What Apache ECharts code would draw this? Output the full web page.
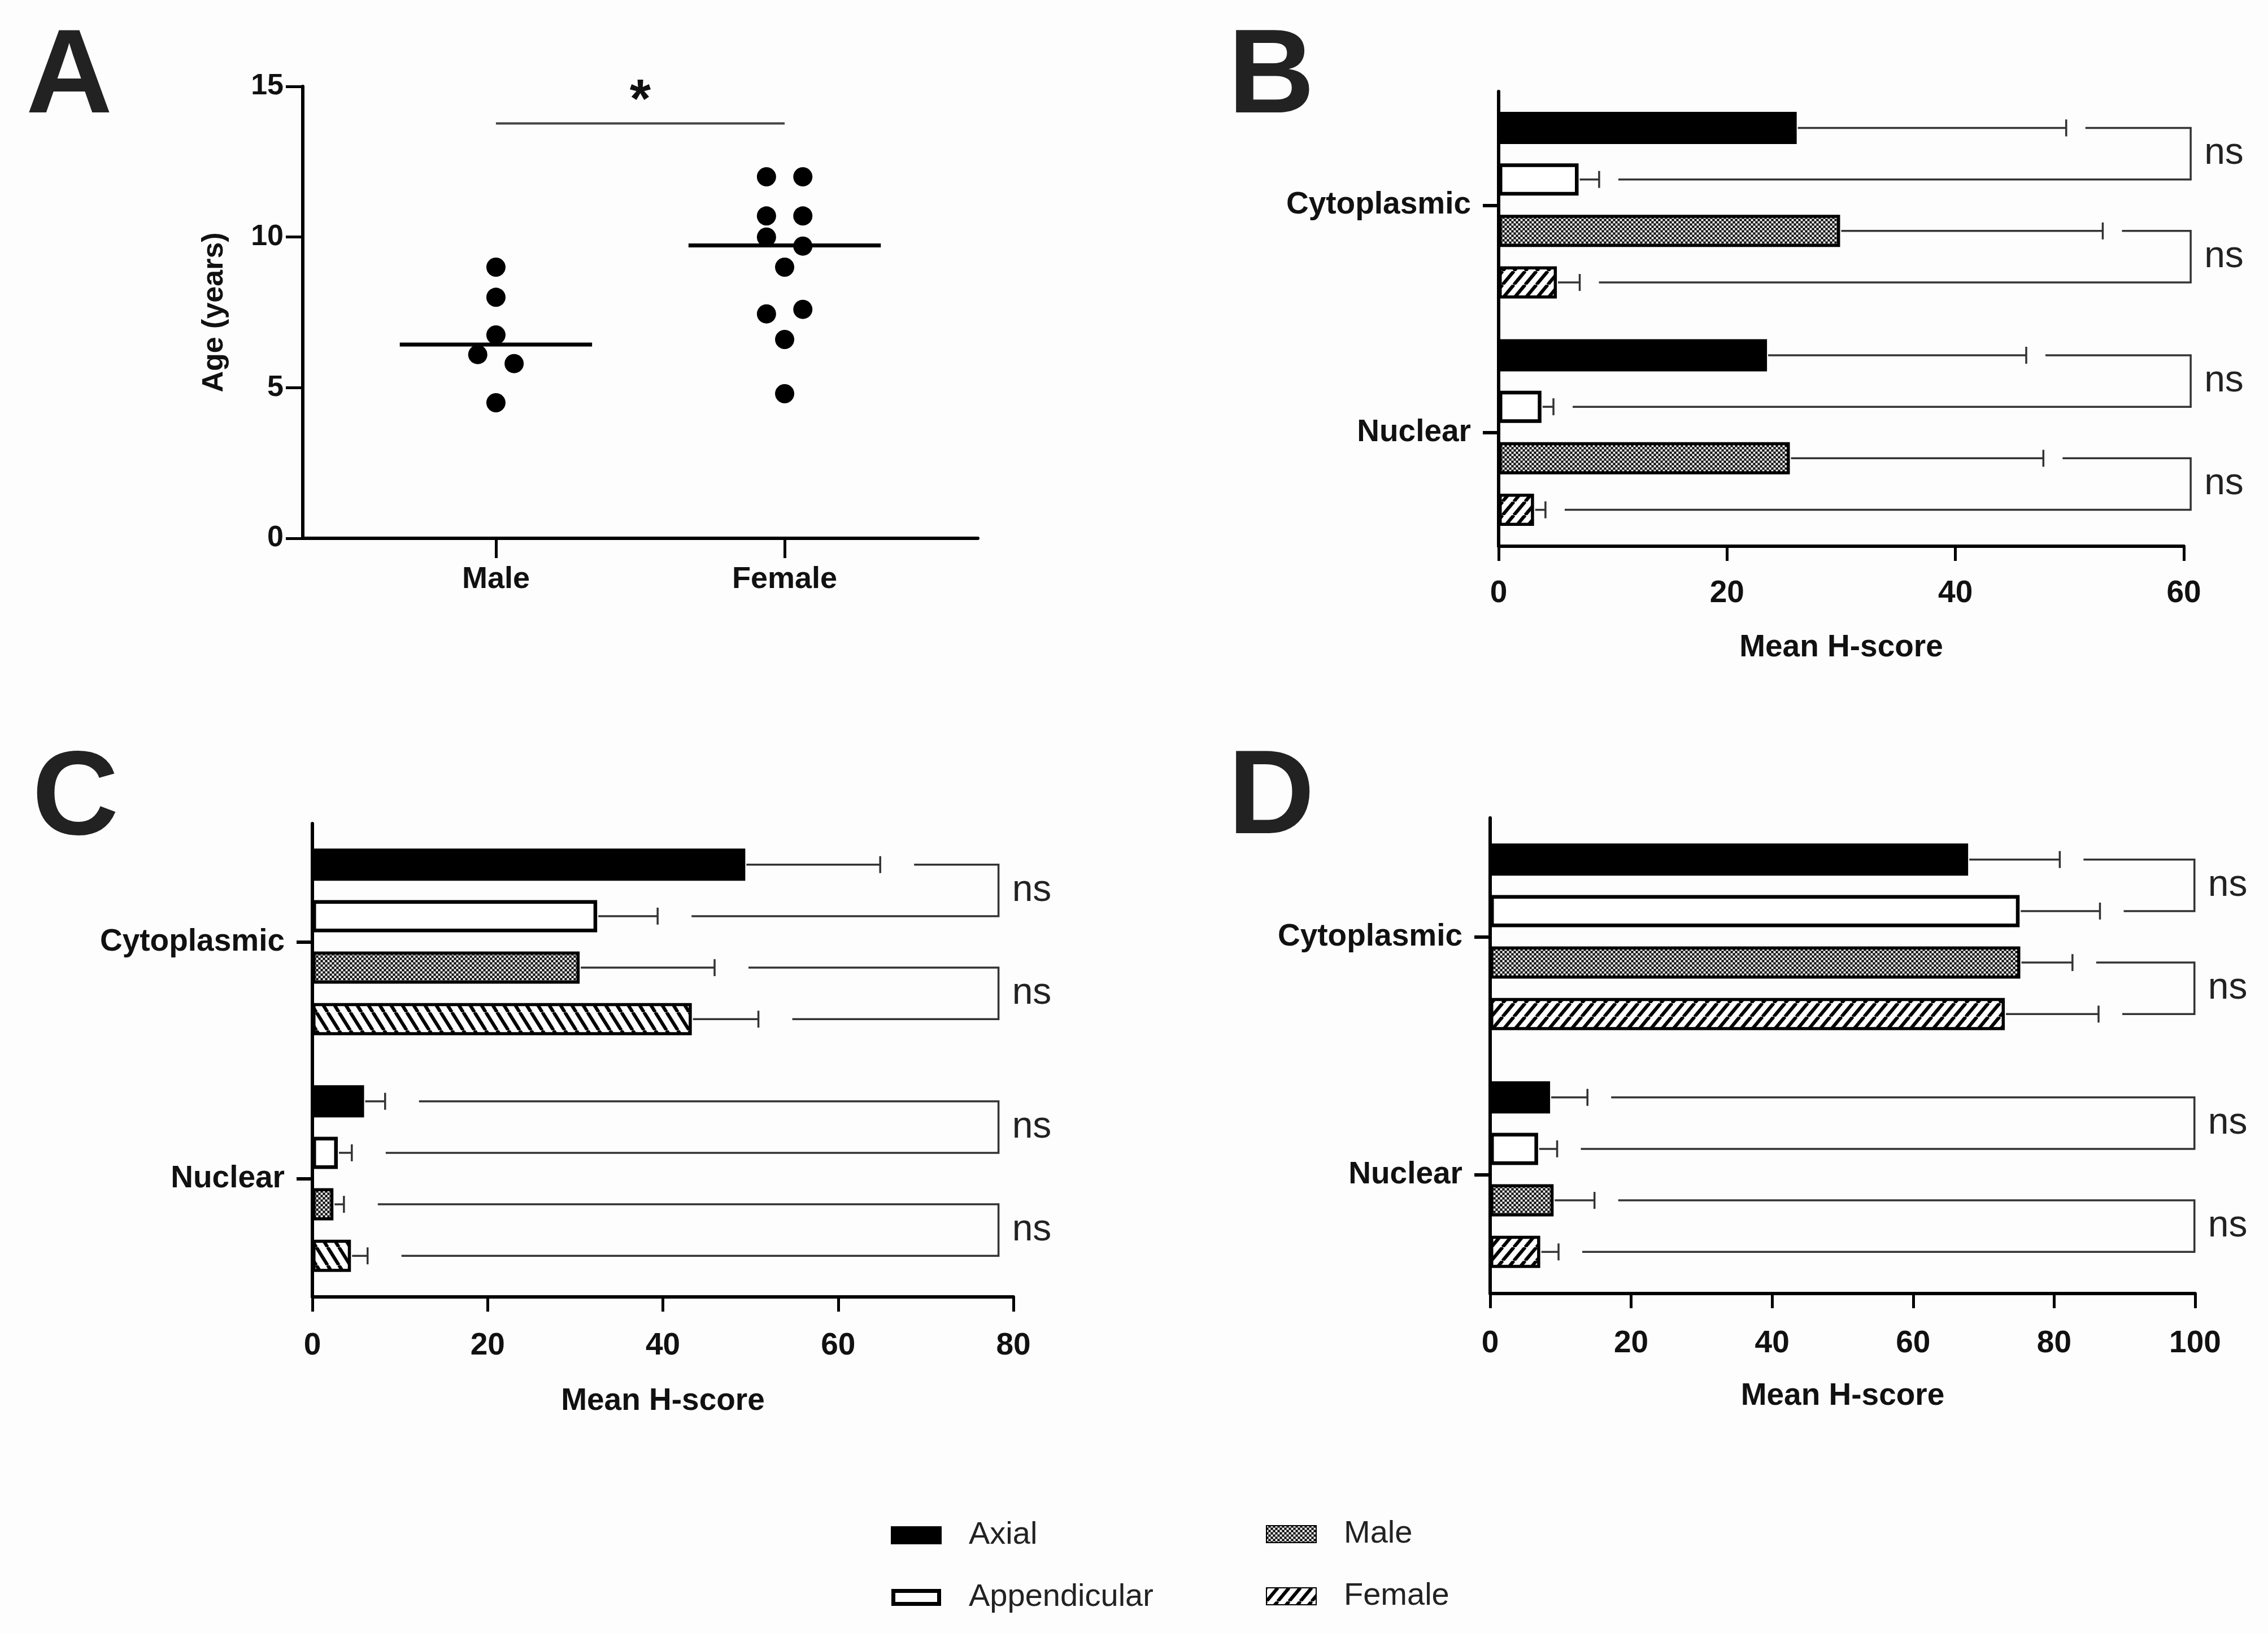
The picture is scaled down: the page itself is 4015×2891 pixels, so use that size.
<!DOCTYPE html>
<html><head><meta charset="utf-8">
<script src="https://cdn.jsdelivr.net/npm/echarts@6/dist/echarts.min.js"></script>
<style>html,body{margin:0;padding:0;background:#fff}#c{width:4015px;height:2891px}</style>
</head><body><div id="c"></div>
<script>
// ---------- Panel A data: age (years) by sex ----------
const sexes = ['Male', 'Female'];
const maleAge = [9.0, 8.0, 6.75, 6.1, 5.8, 4.5];
const maleCol = [0, 0, 0, -1, 1, 0];            // beeswarm column (-1 left, 0 centre, 1 right)
const femaleAge = [12.0, 12.0, 10.7, 10.7, 10.0, 9.7, 9.0, 7.45, 7.6, 6.6, 4.8];
const femaleCol = [-1, 1, -1, 1, -1, 1, 0, -1, 1, 0, 0];
const medianAge = [6.43, 9.72];
const sigLevel = 13.77;
const sigLabel = '*';

// ---------- Panels B-D data: mean H-score ----------
const groups = ['Cytoplasmic', 'Nuclear'];
const barNames = ['Axial', 'Appendicular', 'Male', 'Female'];
// rows follow barNames, columns follow groups
const bMean = [[26.1, 23.5], [7.0, 3.75], [29.9, 25.5], [5.1, 3.1]];
const bSD   = [[23.6, 22.7], [1.8, 1.05], [23.0, 22.2], [2.0, 1.0]];
const cMean = [[49.4, 5.9], [32.5, 2.9], [30.5, 2.4], [43.3, 4.4]];
const cSD   = [[15.4, 2.4], [6.9, 1.6], [15.4, 1.2], [7.6, 1.9]];
const dMean = [[67.8, 8.5], [75.1, 6.8], [75.2, 9.0], [73.0, 7.1]];
const dSD   = [[13.0, 5.3], [11.4, 2.7], [7.4, 5.8], [13.3, 2.6]];
// comparisons: [barA, barB] within each group, with label per group
const pairs = [[0, 1], [2, 3]];
const bSig = [['ns', 'ns'], ['ns', 'ns']];
const cSig = [['ns', 'ns'], ['ns', 'ns']];
const dSig = [['ns', 'ns'], ['ns', 'ns']];
const bBracketX = 60.6, cBracketX = 78.3, dBracketX = 99.9;
const bMax = 60, cMax = 80, dMax = 100;

// ---------- styles ----------
const FONT = 'Liberation Sans, Arial, Helvetica, sans-serif';
const INK = '#111';
const LINE = '#333';
const BAR_W = 57, BAR_GAP = 0.6, PITCH = BAR_W * (1 + BAR_GAP);
const CAP = 30;

function hatch(dir, w, h, lw) {
  const c = document.createElement('canvas'); c.width = w; c.height = h;
  const g = c.getContext('2d');
  g.fillStyle = '#fff'; g.fillRect(0, 0, w, h);
  g.strokeStyle = '#000'; g.lineWidth = lw;
  for (let k = -1; k <= 1; k++) {
    g.beginPath();
    if (dir === '/') { g.moveTo(k * w, h); g.lineTo(k * w + w, 0); }
    else { g.moveTo(k * w, 0); g.lineTo(k * w + w, h); }
    g.stroke();
  }
  return { image: c, repeat: 'repeat' };
}
function checker() {
  const c = document.createElement('canvas'); c.width = 8; c.height = 8;
  const g = c.getContext('2d');
  g.fillStyle = '#6a6a6a'; g.fillRect(0, 0, 8, 8);
  g.fillStyle = '#f2f2f2'; g.fillRect(0, 0, 3, 3); g.fillRect(4, 4, 3, 3);
  g.fillStyle = '#0a0a0a'; g.fillRect(4, 0, 3, 3); g.fillRect(0, 4, 3, 3);
  return { image: c, repeat: 'repeat' };
}
const fillFwd = hatch('/', 20, 24, 6);
const fillBack = hatch('\\', 20, 32, 6);
const fillMale = checker();

function barStyle(i, femaleFill) {
  const base = { borderColor: '#000', borderWidth: 5.5 };
  if (i === 0) return Object.assign(base, { color: '#000' });
  if (i === 1) return Object.assign(base, { color: '#fff', borderWidth: 6.5 });
  if (i === 2) return Object.assign(base, { color: fillMale });
  return Object.assign(base, { color: femaleFill });
}

const grids = [
  { left: 536, top: 153, width: 1195, height: 800 },
  { left: 2653, top: 162, width: 1213, height: 805 },
  { left: 553, top: 1458, width: 1241, height: 838 },
  { left: 2638, top: 1448, width: 1248, height: 842 }
];

function hAxis(idx, max, nameGap, margin) {
  return {
    type: 'value', gridIndex: idx, min: 0, max: max, interval: 20,
    name: 'Mean H-score', nameLocation: 'middle', nameGap: nameGap,
    nameTextStyle: { fontSize: 55, fontWeight: 'bold', color: INK, fontFamily: FONT },
    axisLine: { show: true, onZero: false, lineStyle: { color: '#000', width: 6 } },
    axisTick: { show: true, length: 26, lineStyle: { color: '#000', width: 5 } },
    axisLabel: { fontSize: 55, fontWeight: 'bold', color: INK, fontFamily: FONT, margin: margin },
    splitLine: { show: false }
  };
}
function catAxis(idx) {
  return {
    type: 'category', gridIndex: idx, data: groups, inverse: true,
    axisLine: { show: true, onZero: false, lineStyle: { color: '#000', width: 6 } },
    axisTick: { show: true, alignWithLabel: true, length: 28, lineStyle: { color: '#000', width: 6 } },
    axisLabel: { fontSize: 55, fontWeight: 'bold', color: INK, fontFamily: FONT, margin: 49 },
    splitLine: { show: false }
  };
}

function barSeries(idx, means, femaleFill) {
  return barNames.map((n, i) => ({
    type: 'bar', name: n, xAxisIndex: idx, yAxisIndex: idx,
    barWidth: BAR_W, barGap: (BAR_GAP * 100) + '%',
    itemStyle: barStyle(i, femaleFill),
    data: means[i], silent: true, z: 2
  }));
}
function errSeries(idx, means, sds) {
  const data = [];
  means.forEach((row, si) => row.forEach((v, gi) => data.push([v + sds[si][gi], gi, v, si])));
  return {
    type: 'custom', xAxisIndex: idx, yAxisIndex: idx, silent: true, z: 3,
    encode: { x: 0, y: 1 }, data,
    renderItem(params, api) {
      const gi = api.value(1), si = api.value(3);
      const c = api.coord([api.value(2), gi]);
      const e = api.coord([api.value(0), gi]);
      const y = c[1] + (si - 1.5) * PITCH;
      const st = { stroke: LINE, lineWidth: 3.5 };
      return { type: 'group', children: [
        { type: 'line', shape: { x1: c[0] + 2, y1: y, x2: e[0], y2: y }, style: st },
        { type: 'line', shape: { x1: e[0], y1: y - CAP / 2, x2: e[0], y2: y + CAP / 2 }, style: st }
      ]};
    }
  };
}
function bracketSeries(idx, means, sds, bx, sig, gap) {
  const data = [];
  groups.forEach((g, gi) => pairs.forEach(([a, b], pi) =>
    data.push([bx, gi, means[a][gi] + sds[a][gi], means[b][gi] + sds[b][gi], a, b, pi])));
  return {
    type: 'custom', xAxisIndex: idx, yAxisIndex: idx, silent: true, z: 3,
    encode: { x: 0, y: 1 }, data,
    renderItem(params, api) {
      const gi = api.value(1), a = api.value(4), b = api.value(5), pi = api.value(6);
      const p = api.coord([api.value(0), gi]);
      const yA = p[1] + (a - 1.5) * PITCH, yB = p[1] + (b - 1.5) * PITCH;
      const xA = api.coord([api.value(2), gi])[0] + gap;
      const xB = api.coord([api.value(3), gi])[0] + gap;
      return { type: 'group', children: [
        { type: 'polyline', shape: { points: [[xA, yA], [p[0], yA], [p[0], yB], [xB, yB]] },
          style: { stroke: LINE, lineWidth: 3.5, fill: null } },
        { type: 'text', style: { text: sig[gi][pi], x: p[0] + 24, y: (yA + yB) / 2,
          verticalAlign: 'middle', align: 'left', fontSize: 66, fontFamily: FONT, fill: '#222' } }
      ]};
    }
  };
}

const JITTER = 0.063, HALF = 0.333;
const legendText = { fontSize: 56, color: '#222', fontFamily: FONT, lineHeight: 60, padding: [0, 0, 0, 44] };
const FRAME = 'path://M0,0H88V30H0Z M7,7V23H81V7Z';

const option = {
  backgroundColor: '#fdfdfd',
  animation: false,
  grid: grids,
  xAxis: [
    {
      type: 'value', gridIndex: 0, min: -0.669, max: 1.669,
      axisLine: { show: true, onZero: false, lineStyle: { color: '#000', width: 6 } },
      axisTick: { show: true, customValues: [0, 1], length: 35, lineStyle: { color: '#000', width: 5 } },
      axisLabel: { customValues: [0, 1], formatter: v => sexes[Math.round(v)],
        fontSize: 54, fontWeight: 'bold', color: INK, fontFamily: FONT, margin: 46 },
      splitLine: { show: false }
    },
    hAxis(1, bMax, 152, 56),
    hAxis(2, cMax, 157, 59),
    hAxis(3, dMax, 154, 61)
  ],
  yAxis: [
    {
      type: 'value', gridIndex: 0, min: 0, max: 15, interval: 5,
      name: 'Age (years)', nameLocation: 'middle', nameRotate: 90, nameGap: 130,
      nameTextStyle: { fontSize: 52, fontWeight: 'bold', color: INK, fontFamily: FONT },
      axisLine: { show: true, onZero: false, lineStyle: { color: '#000', width: 6 } },
      axisTick: { show: true, length: 30, lineStyle: { color: '#000', width: 5 } },
      axisLabel: { fontSize: 52, fontWeight: 'bold', color: INK, fontFamily: FONT, margin: 34 },
      splitLine: { show: false }
    },
    catAxis(1), catAxis(2), catAxis(3)
  ],
  legend: [
    { data: ['Axial', { name: 'Appendicular', icon: FRAME, itemStyle: { color: '#000', borderWidth: 0 } }],
      orient: 'vertical', left: 1572, top: 2683,
      itemWidth: 88, itemHeight: 30, itemGap: 50, icon: 'rect', selectedMode: false,
      textStyle: legendText },
    { data: ['Male', 'Female'], orient: 'vertical', left: 2236, top: 2681,
      itemWidth: 88, itemHeight: 30, itemGap: 50, icon: 'rect', selectedMode: false,
      textStyle: legendText }
  ],
  graphic: [
    { type: 'text', x: 46, y: 141, style: { text: 'A', font: 'bold 212px ' + FONT, fill: '#222', verticalAlign: 'middle' } },
    { type: 'text', x: 2174, y: 141, style: { text: 'B', font: 'bold 212px ' + FONT, fill: '#222', verticalAlign: 'middle' } },
    { type: 'text', x: 57, y: 1419, style: { text: 'C', font: 'bold 212px ' + FONT, fill: '#222', verticalAlign: 'middle' } },
    { type: 'text', x: 2174, y: 1417, style: { text: 'D', font: 'bold 212px ' + FONT, fill: '#222', verticalAlign: 'middle' } }
  ],
  series: [
    ...barSeries(1, bMean, fillFwd),
    ...barSeries(2, cMean, fillBack),
    ...barSeries(3, dMean, fillFwd),
    errSeries(1, bMean, bSD), errSeries(2, cMean, cSD), errSeries(3, dMean, dSD),
    bracketSeries(1, bMean, bSD, bBracketX, bSig, 34),
    bracketSeries(2, cMean, cSD, cBracketX, cSig, 60),
    bracketSeries(3, dMean, dSD, dBracketX, dSig, 42),
    {
      type: 'scatter', name: 'Male ages', xAxisIndex: 0, yAxisIndex: 0, symbolSize: 34, silent: true,
      itemStyle: { color: '#000', opacity: 1 },
      data: maleAge.map((v, i) => [0 + maleCol[i] * JITTER, v])
    },
    {
      type: 'scatter', name: 'Female ages', xAxisIndex: 0, yAxisIndex: 0, symbolSize: 34, silent: true,
      itemStyle: { color: '#000', opacity: 1 },
      data: femaleAge.map((v, i) => [1 + femaleCol[i] * JITTER, v])
    },
    {
      type: 'custom', xAxisIndex: 0, yAxisIndex: 0, silent: true, z: 3,
      encode: { x: 0, y: 1 }, data: medianAge.map((m, i) => [i, m]),
      renderItem(params, api) {
        const p1 = api.coord([api.value(0) - HALF, api.value(1)]);
        const p2 = api.coord([api.value(0) + HALF, api.value(1)]);
        return { type: 'line', shape: { x1: p1[0], y1: p1[1], x2: p2[0], y2: p2[1] },
          style: { stroke: '#000', lineWidth: 7 } };
      }
    },
    {
      type: 'custom', xAxisIndex: 0, yAxisIndex: 0, silent: true, z: 3,
      encode: { x: [0, 1], y: 2 }, data: [[0, 1, sigLevel]],
      renderItem(params, api) {
        const p1 = api.coord([api.value(0), api.value(2)]);
        const p2 = api.coord([api.value(1), api.value(2)]);
        return { type: 'group', children: [
          { type: 'line', shape: { x1: p1[0], y1: p1[1], x2: p2[0], y2: p2[1] },
            style: { stroke: '#444', lineWidth: 4 } },
          { type: 'text', style: { text: sigLabel, x: (p1[0] + p2[0]) / 2, y: p1[1] - 38,
            align: 'center', verticalAlign: 'middle', font: 'bold 96px ' + FONT, fill: '#111' } }
        ]};
      }
    }
  ]
};

const chart = echarts.init(document.getElementById('c'), null, { renderer: 'canvas' });
chart.setOption(option);
</script>
</body></html>
